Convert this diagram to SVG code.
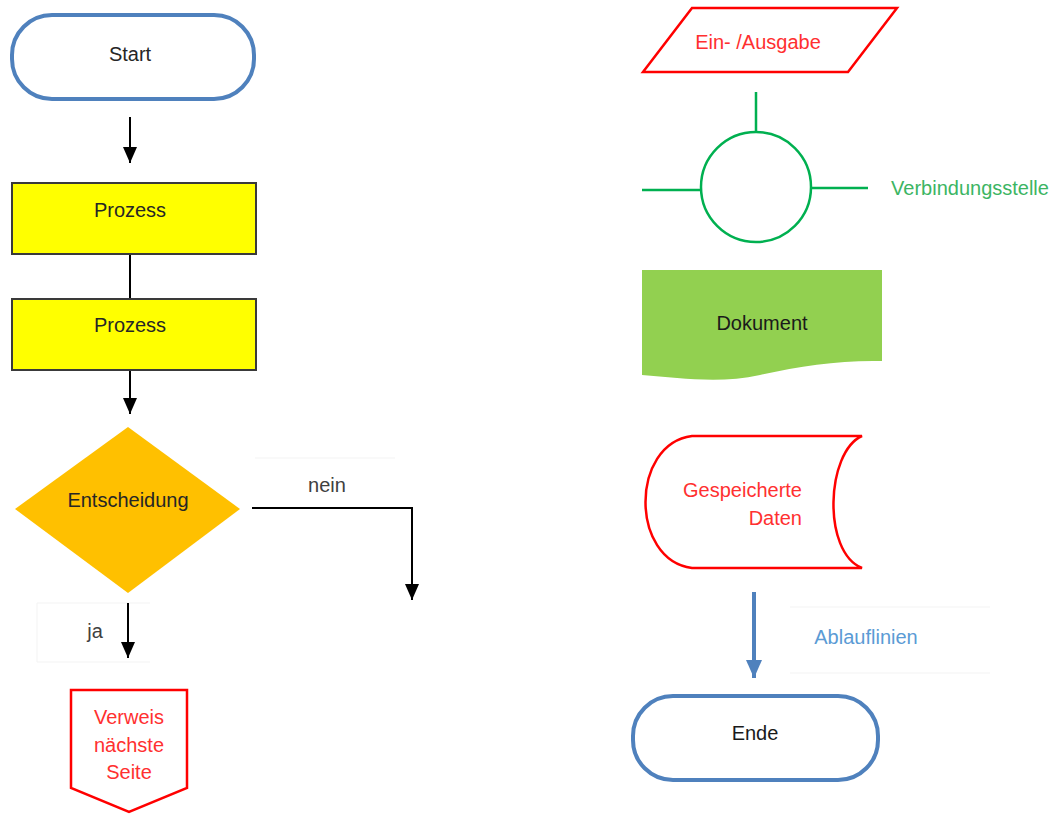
<svg xmlns="http://www.w3.org/2000/svg" width="1056" height="814" viewBox="0 0 1056 814">
<style>
text{font-family:"Liberation Sans",Arial,sans-serif;font-size:20px;text-anchor:middle;dominant-baseline:central}
.term{fill:#fff;stroke:#4f81bd;stroke-width:4}
.proc{fill:#ffff00;stroke:#3a3a3a;stroke-width:2}
.blk{stroke:#000;stroke-width:2;fill:none}
.red{fill:#fff;stroke:#ff0000;stroke-width:2.5}
.grn{stroke:#00b050;stroke-width:2.5;fill:none}
.faint{stroke:#f3f3f3;stroke-width:1;fill:none}
</style>
<defs>
<marker id="ah" viewBox="0 0 10 10" refX="10" refY="5" markerWidth="16" markerHeight="14" markerUnits="userSpaceOnUse" orient="auto" preserveAspectRatio="none">
<path d="M0,0 L10,5 L0,10 z" fill="#000"/>
</marker>
<marker id="ahb" viewBox="0 0 10 10" refX="10" refY="5" markerWidth="18" markerHeight="16" markerUnits="userSpaceOnUse" orient="auto" preserveAspectRatio="none">
<path d="M0,0 L10,5 L0,10 z" fill="#4f81bd"/>
</marker>
</defs>
<rect width="1056" height="814" fill="#fff"/>

<g id="faint">
<path class="faint" d="M255,458 H395 M37,603 H150 M37,662 H150 M37,603 V662 M790,607 H990 M790,673 H990"/>
</g>

<g id="connectors">
<line class="blk" x1="130" y1="117" x2="130" y2="163" marker-end="url(#ah)"/>
<line class="blk" x1="130" y1="254" x2="130" y2="299"/>
<line class="blk" x1="130" y1="370" x2="130" y2="414" marker-end="url(#ah)"/>
<path class="blk" d="M252,508 H412 V600" marker-end="url(#ah)"/>
<line class="blk" x1="128" y1="603" x2="128" y2="658" marker-end="url(#ah)"/>
<line x1="754" y1="592" x2="754" y2="678" stroke="#4f81bd" stroke-width="4" marker-end="url(#ahb)"/>
<text x="327" y="485" fill="#404040">nein</text>
<text x="95" y="631" fill="#404040">ja</text>
<text x="866" y="637" fill="#5b9bd5">Ablauflinien</text>
</g>

<g id="start">
<rect class="term" x="12" y="15" width="242" height="84" rx="40"/>
<text x="130" y="54" fill="#262626">Start</text>
</g>

<g id="prozess1">
<rect class="proc" x="12" y="183" width="244" height="71"/>
<text x="130" y="210" fill="#262626">Prozess</text>
</g>

<g id="prozess2">
<rect class="proc" x="12" y="299" width="244" height="71"/>
<text x="130" y="325" fill="#262626">Prozess</text>
</g>

<g id="entscheidung">
<polygon points="128,427 240,509 128,593 15,509" fill="#ffc000"/>
<text x="128" y="500" fill="#262626">Entscheidung</text>
</g>

<g id="verweis">
<polygon class="red" points="71,690 187,690 187,788 129,812 71,788"/>
<text x="129" y="717" fill="#ff3030">Verweis</text>
<text x="129" y="745" fill="#ff3030">nächste</text>
<text x="129" y="772" fill="#ff3030">Seite</text>
</g>

<g id="eingabe">
<polygon class="red" points="692,8 897,8 848,72 643,72"/>
<text x="758" y="42" fill="#ff3030">Ein- /Ausgabe</text>
</g>

<g id="verbindungsstelle">
<circle class="grn" cx="756" cy="187" r="55"/>
<path class="grn" d="M756,92 V132 M642,190 H701 M811,188 H868"/>
<text x="970" y="188" fill="#3cb563">Verbindungsstelle</text>
</g>

<g id="dokument">
<path d="M642,270 H882 V361 C840,360 800,366 760,375 C720,384 680,378 642,375 Z" fill="#92d050"/>
<text x="762" y="323" fill="#1a1a1a">Dokument</text>
</g>

<g id="daten">
<path class="red" d="M692,436 H862 C826,452 822,552 862,568 H692 C630,560 630,444 692,436 Z"/>
<text x="802" y="490" fill="#ff3030" style="text-anchor:end">Gespeicherte</text>
<text x="802" y="518" fill="#ff3030" style="text-anchor:end">Daten</text>
</g>

<g id="ende">
<rect class="term" x="633" y="696" width="245" height="84" rx="40"/>
<text x="755" y="733" fill="#1a1a1a">Ende</text>
</g>
</svg>
